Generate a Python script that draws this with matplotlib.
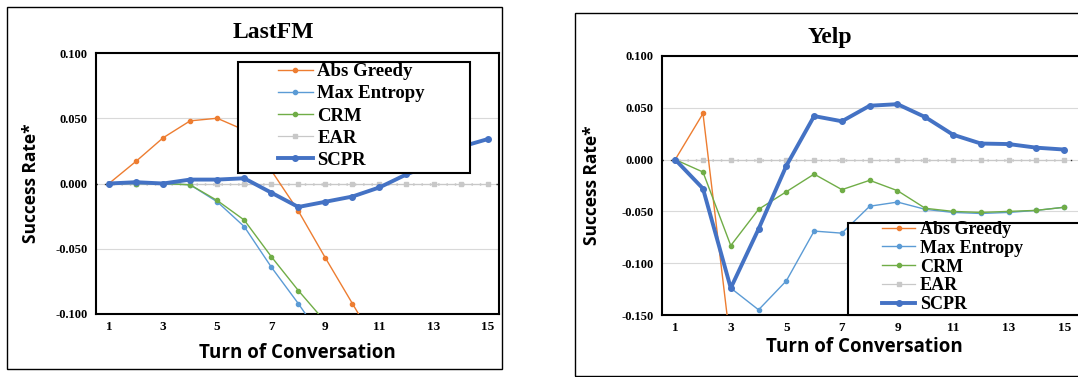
import numpy as np
import matplotlib.pyplot as plt
from matplotlib.patches import Rectangle

# -----------------------------
# DATA
# -----------------------------
turns = np.arange(1, 16)
nan = np.nan

lastfm_abs = [0, 0.017, 0.035, 0.048, 0.050, 0.041, 0.010, -0.021, -0.057, -0.092, -0.127,
              nan, nan, nan, nan]
lastfm_maxent = [0, 0, 0, -0.001, -0.014, -0.033, -0.064, -0.092, -0.122,
                 nan, nan, nan, nan, nan, nan]
lastfm_crm = [0, 0, 0, -0.001, -0.013, -0.028, -0.056, -0.082, -0.106,
              nan, nan, nan, nan, nan, nan]
lastfm_ear = [0] * 15
lastfm_scpr = [0, 0.001, 0, 0.003, 0.003, 0.004, -0.007, -0.018, -0.014, -0.010,
               -0.003, 0.007, 0.015, 0.028, 0.034]

yelp_abs = [0, 0.0445, -0.18, nan, nan, nan, nan, nan, nan, nan, nan, nan, nan, nan, nan]
yelp_maxent = [0, -0.028, -0.124, -0.145, -0.117, -0.069, -0.071, -0.045, -0.041, -0.048,
               -0.051, -0.052, -0.051, -0.049, -0.046]
yelp_crm = [0, -0.012, -0.083, -0.048, -0.031, -0.014, -0.029, -0.020, -0.030, -0.047,
            -0.050, -0.051, -0.050, -0.049, -0.046]
yelp_ear = [0] * 15
yelp_scpr = [0, -0.028, -0.124, -0.067, -0.006, 0.042, 0.037, 0.052, 0.0535, 0.041,
             0.024, 0.0155, 0.015, 0.0115, 0.0097]

labels = ["Abs Greedy", "Max Entropy", "CRM", "EAR", "SCPR"]
colors = ["#ED7D31", "#5B9BD5", "#70AD47", "#A5A5A5", "#4472C4"]

W, H = 1078, 377
fig = plt.figure(figsize=(W / 100, H / 100), dpi=100)

def fx(px):
    return px / W

def fy(py):
    return 1 - py / H

def frame(x0, y0, x1, y1, lw, z=1):
    r = Rectangle((fx(x0), fy(y1)), fx(x1 - x0), (y1 - y0) / H, fill=True, fc="white",
                  ec="black", lw=lw, transform=fig.transFigure, zorder=z)
    return r

# outer frames
for x0, y0, x1, y1 in [(7, 7, 502, 369), (575, 13, 1135, 376)]:
    r = frame(x0, y0, x1, y1, 1.0, z=0)
    r.set_fill(False)
    fig.patches.append(r)

serif = "Liberation Serif"
sans = "Open Sans"


def draw(ax, series, yticks, xlim):
    ax.set_facecolor("white")
    ax.set_xlim(*xlim)
    ax.set_ylim(yticks[0], yticks[-1])
    for t in yticks:
        ax.axhline(t, color="#D9D9D9", lw=0.8, zorder=0)
    ax.axhline(0, color="#333333", lw=1.0, ls=(0, (1, 5)), zorder=1)
    handles = []
    for i, (vals, lab, c) in enumerate(zip(series, labels, colors)):
        if lab == "SCPR":
            h, = ax.plot(turns, vals, color=c, lw=2.8, marker="o", ms=4, zorder=6, label=lab)
        elif lab == "EAR":
            h, = ax.plot(turns, vals, color="#C8C8C8", lw=0.9, marker="s", ms=3.5,
                         zorder=2, label=lab)
        else:
            h, = ax.plot(turns, vals, color=c, lw=1.0, marker="o", ms=3, zorder=3 + i,
                         label=lab)
        handles.append(h)
    ax.set_xticks(turns[::2])
    ax.set_xticklabels([str(t) for t in turns[::2]], fontfamily=serif,
                       fontweight="bold", fontsize=9.5)
    ax.set_yticks(yticks)
    ax.set_yticklabels([f"{t:.3f}" for t in yticks], fontfamily=serif,
                       fontweight="bold", fontsize=9)
    ax.tick_params(length=0, pad=6)
    ax.tick_params(axis="x", pad=5)
    for s in ax.spines.values():
        s.set_color("black")
        s.set_linewidth(1.5)
    ax.set_xlabel("Turn of Conversation", fontfamily=sans, fontweight="bold",
                  fontsize=13.5)
    ax.set_ylabel("Success Rate*", fontfamily=sans, fontweight="bold", fontsize=12.5)
    return handles


def legend(ax, handles, box, anchor, size, spacing):
    ax.add_artist(frame(*box, 1.5, z=9))
    ax.patches[-1].set_clip_on(False)
    leg = ax.legend(handles=handles, loc="center left", bbox_to_anchor=anchor,
                    bbox_transform=fig.transFigure,
                    prop={"family": serif, "weight": "bold", "size": size},
                    frameon=False, borderpad=0, labelspacing=spacing,
                    handlelength=1.85, handletextpad=0.25, borderaxespad=0)
    leg.set_zorder(10)
    return leg


ax1 = fig.add_axes([fx(96), fy(314), fx(403), (314 - 53) / H])
h1 = draw(ax1, [lastfm_abs, lastfm_maxent, lastfm_crm, lastfm_ear, lastfm_scpr],
          [-0.100, -0.050, 0.000, 0.050, 0.100], (0.52, 15.42))
ax1.yaxis.set_label_coords((40 - 96) / 403, 0.5)
ax1.xaxis.set_label_coords(0.5, -(343 - 314) / 261)
legend(ax1, h1, (238, 62, 470, 173), (fx(278), fy(116)), 13.5, 0.27)
fig.text(fx(273), fy(33), "LastFM", ha="center", va="center", fontfamily=serif,
         fontweight="bold", fontsize=17)

ax2 = fig.add_axes([fx(662), fy(315), fx(430), (315 - 56) / H])
h2 = draw(ax2, [yelp_abs, yelp_maxent, yelp_crm, yelp_ear, yelp_scpr],
          [-0.150, -0.100, -0.050, 0.000, 0.050, 0.100], (0.525, 16.0))
ax2.yaxis.set_label_coords((601 - 662) / 430, 0.5)
ax2.xaxis.set_label_coords((864 - 662) / 430, -(337 - 315) / 259)
legend(ax2, h2, (848, 223, 1120, 315), (fx(882), fy(267)), 13, 0.1)
fig.text(fx(830), fy(38), "Yelp", ha="center", va="center", fontfamily=serif,
         fontweight="bold", fontsize=17)

fig.savefig("out.png", dpi=100, facecolor="white")
